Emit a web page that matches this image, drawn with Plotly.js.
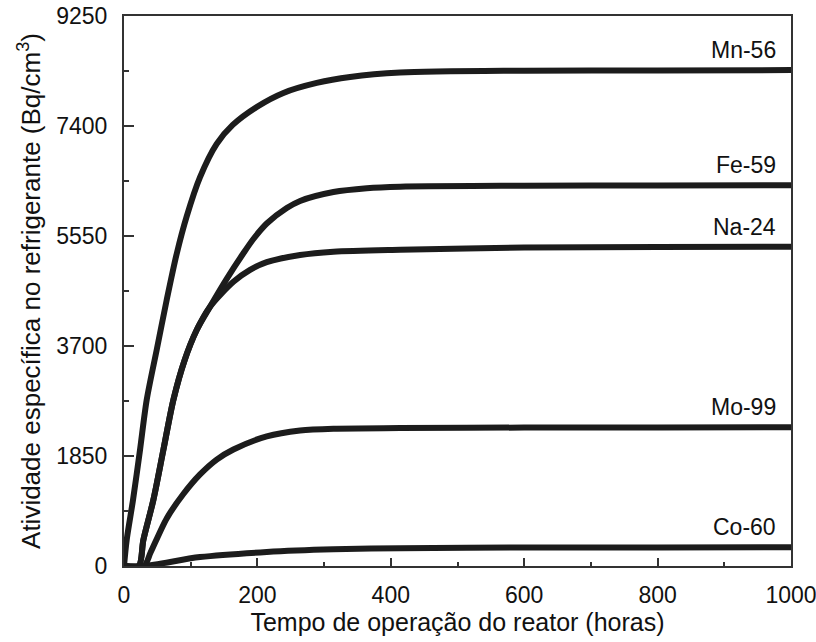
<!DOCTYPE html>
<html>
<head>
<meta charset="utf-8">
<script src="https://cdn.plot.ly/plotly-3.0.1.min.js"></script>
<style>html,body{margin:0;padding:0;background:#fff;}#chart{width:816px;height:642px;}</style>
</head>
<body>
<div id="chart"></div>
<script>
// Data (hours vs. Bq/cm3)
const hoursMn = [0, 4, 13.5, 24, 34, 49, 64, 79, 94, 114, 139, 163, 199, 239, 289, 339, 414, 600, 800, 1000];
const actMn   = [0, 437, 1110, 1951, 2792, 3633, 4474, 5250, 5880, 6540, 7100, 7418, 7720, 7956, 8124, 8225, 8300, 8330, 8335, 8340];

const hoursFe = [0, 22, 29, 44, 59, 74, 91, 109, 129, 154, 179, 194, 214, 244, 264, 314, 364, 414, 600, 800, 1000];
const actFe   = [0, 0, 437, 1110, 1951, 2792, 3465, 3969, 4361, 4830, 5260, 5500, 5760, 6020, 6140, 6290, 6355, 6380, 6395, 6400, 6405];

const hoursNa = [0, 22, 29, 44, 59, 74, 91, 109, 129, 164, 189, 214, 264, 314, 414, 600, 800, 1000];
const actNa   = [0, 0, 437, 1110, 1951, 2792, 3465, 3969, 4361, 4780, 4980, 5110, 5231, 5287, 5320, 5355, 5365, 5370];

const hoursMo = [0, 30, 40, 64, 89, 114, 139, 164, 214, 264, 314, 414, 600, 800, 1000];
const actMo   = [0, 0, 230, 800, 1210, 1540, 1790, 1960, 2180, 2280, 2310, 2320, 2328, 2330, 2332];

const hoursCo = [0, 30, 114, 214, 314, 414, 600, 800, 1000];
const actCo   = [0, 0, 150, 235, 280, 300, 310, 312, 315];

const isotopeLabels = ["Mn-56", "Fe-59", "Na-24", "Mo-99", "Co-60"];
const plateauValues = [8340, 6405, 5370, 2332, 315];

const xTicks = [0, 200, 400, 600, 800, 1000];
const yTicks = [0, 1850, 3700, 5550, 7400, 9250];

const series = [
  [hoursMn, actMn], [hoursFe, actFe], [hoursNa, actNa], [hoursMo, actMo], [hoursCo, actCo]
];

const lineColor = "#1c1c1c";
const traces = series.map((s, i) => ({
  x: s[0], y: s[1], type: "scatter", mode: "lines", name: isotopeLabels[i],
  line: {color: lineColor, width: 6, shape: "spline", smoothing: 0.8},
  hoverinfo: "skip"
}));

const annotations = isotopeLabels.map((t, i) => ({
  x: 980, y: plateauValues[i], xref: "x", yref: "y",
  text: t, showarrow: false, xanchor: "right", yanchor: "bottom", yshift: 5,
  font: {size: 23, color: "#111"}
}));

const font = {family: "Liberation Sans, Arial, sans-serif", color: "#111"};

const layout = {
  width: 816, height: 642,
  margin: {l: 124, r: 25, t: 16, b: 76},
  paper_bgcolor: "#fff", plot_bgcolor: "#fff",
  font: font,
  showlegend: false,
  xaxis: {
    range: [0, 1000], tickvals: xTicks, ticktext: xTicks.map(String),
    ticks: "inside", ticklen: 8, tickwidth: 2, tickcolor: "#333",
    minor: {ticks: "inside", ticklen: 4, tickwidth: 2, tickcolor: "#333", dtick: 100, tick0: 0, showgrid: false},
    showline: true, mirror: true, linecolor: "#333", linewidth: 2,
    showgrid: false, zeroline: false,
    tickfont: {size: 23, color: "#111"}, ticklabelstandoff: 7,
    ticklabeloverflow: "allow",
    title: {text: "Tempo de operação do reator (horas)", font: {size: 25, color: "#111"}, standoff: 6}
  },
  yaxis: {
    range: [0, 9250], tickvals: yTicks, ticktext: yTicks.map(String),
    ticks: "inside", ticklen: 10, tickwidth: 2, tickcolor: "#333",
    minor: {ticks: "inside", ticklen: 5, tickwidth: 2, tickcolor: "#333", dtick: 925, tick0: 0, showgrid: false},
    showline: true, mirror: true, linecolor: "#333", linewidth: 2,
    showgrid: false, zeroline: false,
    tickfont: {size: 23, color: "#111"}, ticklabelstandoff: 10,
    ticklabeloverflow: "allow",
    title: {text: "Atividade específica no refrigerante (Bq/cm<sup>3</sup>)", font: {size: 26, color: "#111"}, standoff: 8}
  },
  annotations: annotations
};

Plotly.newPlot("chart", traces, layout, {staticPlot: true, displayModeBar: false});
</script>
</body>
</html>
